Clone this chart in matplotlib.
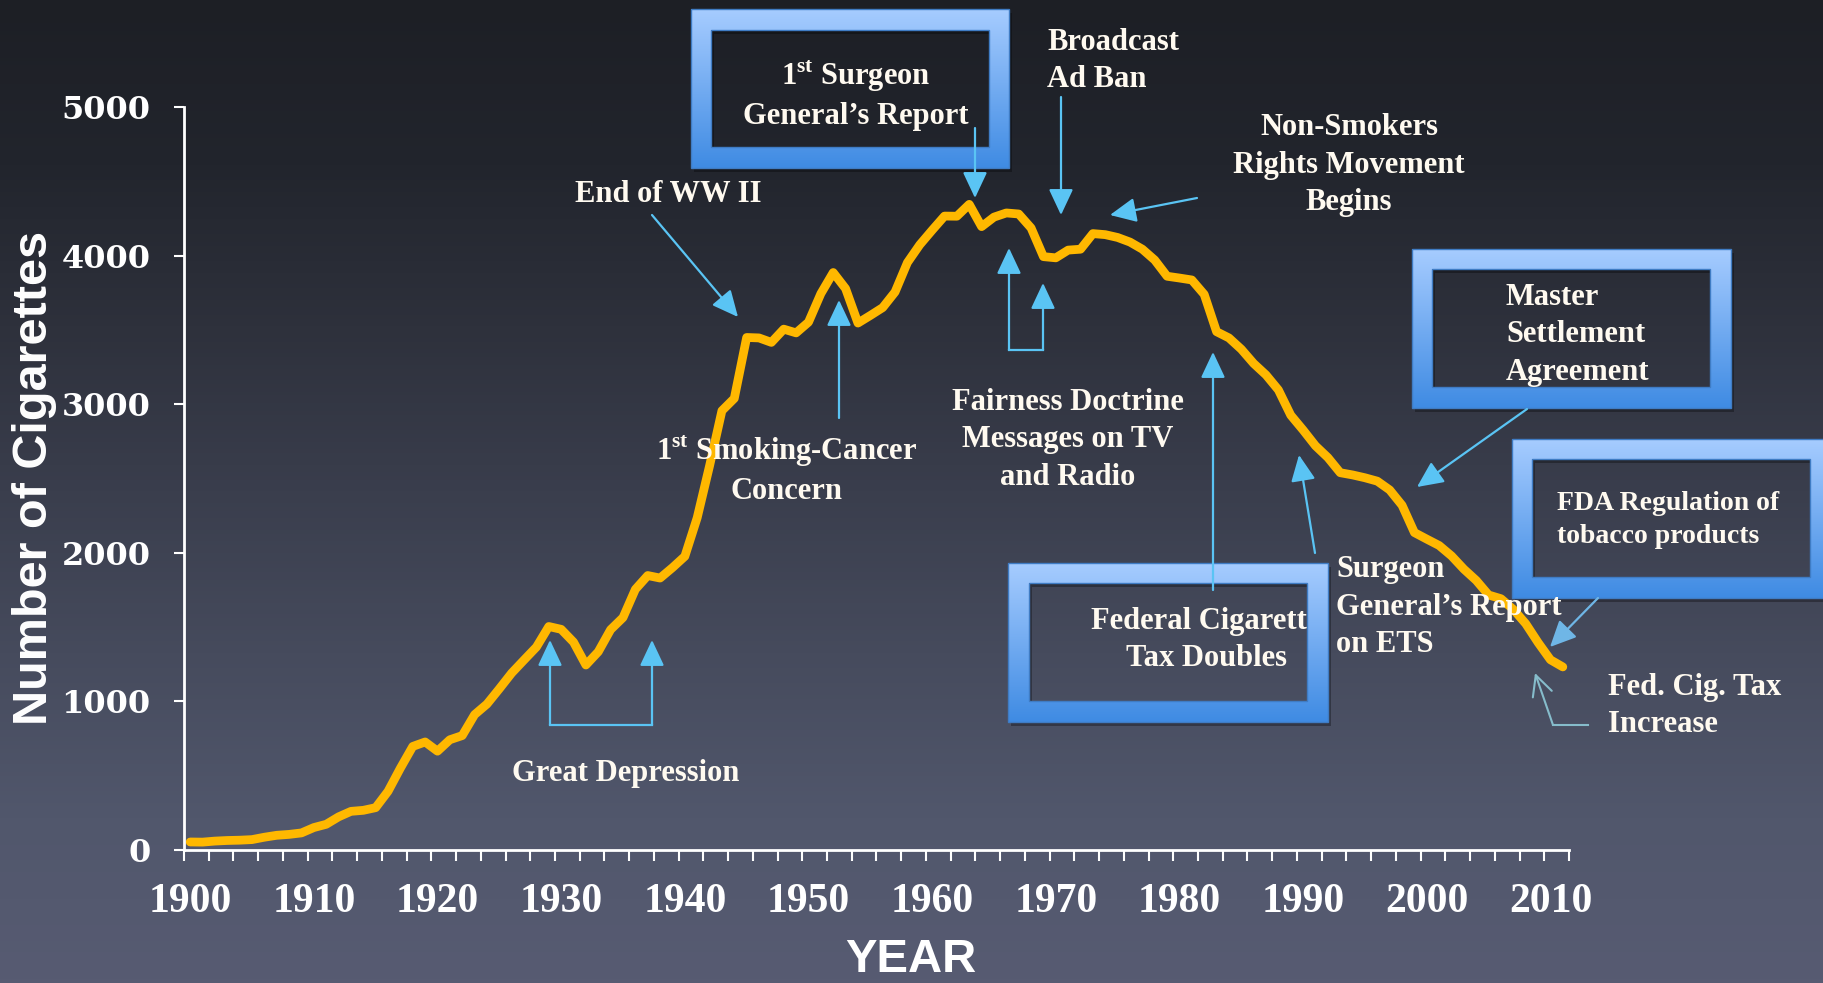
import numpy as np
import matplotlib
matplotlib.use("Agg")
import matplotlib.pyplot as plt
from matplotlib.colors import LinearSegmentedColormap
from matplotlib.patches import FancyArrowPatch, PathPatch, Rectangle
from matplotlib.path import Path

plt.rcParams["mathtext.fontset"] = "custom"
plt.rcParams["mathtext.rm"] = "Liberation Serif:bold"
plt.rcParams["mathtext.bf"] = "Liberation Serif:bold"

# Adult per capita cigarette consumption, US, 1900-2011
years = list(range(1900, 2012))
cigarettes = [
    54, 53, 60, 64, 66, 70, 86, 99, 105, 115,
    151, 173, 223, 260, 267, 285, 395, 551, 697, 727,
    665, 742, 770, 911, 982, 1085, 1191, 1279, 1366, 1504,
    1485, 1399, 1245, 1334, 1483, 1564, 1754, 1847, 1830, 1900,
    1976, 2236, 2585, 2956, 3039, 3449, 3446, 3416, 3505, 3480,
    3552, 3744, 3886, 3778, 3546, 3597, 3650, 3755, 3953, 4073,
    4171, 4266, 4265, 4345, 4195, 4259, 4287, 4280, 4186, 3993,
    3985, 4037, 4043, 4148, 4141, 4122, 4091, 4043, 3970, 3861,
    3849, 3836, 3739, 3488, 3446, 3370, 3274, 3197, 3096, 2926,
    2826, 2720, 2641, 2539, 2524, 2505, 2482, 2423, 2320, 2136,
    2092, 2049, 1979, 1890, 1814, 1716, 1691, 1619, 1523, 1396,
    1280, 1232,
]
decade_ticks = list(range(1900, 2011, 10))
decade_labels = [str(y) for y in decade_ticks]
y_ticks = [0, 1000, 2000, 3000, 4000, 5000]
y_labels = ["0", "1000", "2000", "3000", "4000", "5000"]

W, H = 1823, 983
fig = plt.figure(figsize=(W / 100, H / 100), dpi=100)

# background gradient
bg = fig.add_axes([0, 0, 1, 1], zorder=0)
bg_cmap = LinearSegmentedColormap.from_list(
    "bg", ["#1d1f25", "#22252d", "#2e313c", "#3a3e4d", "#464b5d", "#51576c", "#575b72"])
bg.imshow(np.linspace(0, 1, 256).reshape(-1, 1), cmap=bg_cmap, aspect="auto",
          extent=[0, 1, 0, 1], origin="upper")
bg.axis("off")

# main chart
ax = fig.add_axes([184 / W, 1 - 850 / H, (1569 - 184) / W, (850 - 107) / H], zorder=1)
ax.patch.set_alpha(0)
ax.plot(years, cigarettes, color="#ffb800", lw=6.3, solid_capstyle="round",
        solid_joinstyle="round", clip_on=False)
ax.set_xlim(1899.5, 2011.5)
ax.set_ylim(0, 5000)
for s in ["top", "right"]:
    ax.spines[s].set_visible(False)
for s in ["left", "bottom"]:
    ax.spines[s].set_color("white")
    ax.spines[s].set_linewidth(2)

ax.set_xticks(decade_ticks, labels=decade_labels, fontsize=30, fontweight="bold",
              fontfamily="Liberation Serif", color="white")
ax.set_xticks(np.arange(1899.5, 2012, 2), minor=True)
ax.tick_params(axis="x", which="major", length=0, pad=24)
ax.tick_params(axis="x", which="minor", length=8, width=1.5, color="white", direction="out")
ax.set_yticks(y_ticks, labels=y_labels, fontsize=23, fontweight="bold",
              fontfamily="DejaVu Serif", color="white")
ax.tick_params(axis="y", length=7, width=1.5, color="white", pad=17)

# annotation layer in pixel coordinates
ov = fig.add_axes([0, 0, 1, 1], zorder=2)
ov.axis("off")

TXT = "#fffaf0"
ARR = "#5ac4f4"
serif = dict(family="Liberation Serif", fontweight="bold", color=TXT, fontsize=22,
             linespacing=1.38)

ov.text(35, 478, "Number of Cigarettes", rotation=90, ha="center", va="center",
        fontsize=35, fontweight="bold", family="Liberation Sans", color="white")
ov.text(911, 960, "YEAR", ha="center", va="center", fontsize=34,
        fontweight="bold", family="Liberation Sans", color="white")

box_cmap = LinearSegmentedColormap.from_list("box", ["#a6ccff", "#3f8be3"])


def blue_box(outer, inner):
    x0, y0, x1, y1 = outer
    a0, b0, a1, b1 = inner
    verts = [(x0, y0), (x1, y0), (x1, y1), (x0, y1), (x0, y0),
             (a0, b0), (a0, b1), (a1, b1), (a1, b0), (a0, b0)]
    codes = [Path.MOVETO, Path.LINETO, Path.LINETO, Path.LINETO, Path.CLOSEPOLY] * 2
    path = Path(verts, codes)
    shadow = Path([(vx + 3, vy + 4) for vx, vy in verts], codes)
    ov.add_patch(PathPatch(shadow, facecolor="black", edgecolor="none", alpha=0.3, zorder=3))
    frame = PathPatch(path, facecolor="none", edgecolor="#3f7cc4", lw=1, zorder=5)
    ov.add_patch(frame)
    im = ov.imshow(np.linspace(0, 1, 128).reshape(-1, 1), cmap=box_cmap, aspect="auto",
                   extent=(x0, x1, y1, y0), origin="upper", zorder=4)
    im.set_clip_path(frame)


def arrow(p0, p1, color=ARR, style="-|>,head_length=1.0,head_width=0.47", lw=1.6):
    ov.add_patch(FancyArrowPatch(p0, p1, arrowstyle=style, mutation_scale=16, lw=lw,
                                 color=color, shrinkA=0, shrinkB=0, zorder=6))


# 1st Surgeon General's Report
blue_box((691, 9, 1009, 168), (711, 30, 989, 147))
ov.text(856, 95, "1$^{\\rm st}$ Surgeon\nGeneral\u2019s Report", ha="center", va="center",
        multialignment="center", zorder=7, **serif)
arrow((975, 128), (975, 198))

# Broadcast Ad Ban
ov.text(1047, 61, "Broadcast\nAd Ban", ha="left", va="center", zorder=7, **serif)
arrow((1061, 97), (1061, 215))

# Non-Smokers Rights Movement
ov.text(1349, 165, "Non-Smokers\nRights Movement\nBegins", ha="center", va="center",
        multialignment="center", zorder=7, **serif)
arrow((1197, 198), (1110, 215))

# End of WW II
ov.text(668, 194, "End of WW II", ha="center", va="center", zorder=7, **serif)
arrow((652, 215), (738, 317))

# 1st Smoking-Cancer Concern
ov.text(787, 470, "1$^{\\rm st}$ Smoking-Cancer\nConcern", ha="center", va="center",
        multialignment="center", zorder=7, **serif)
arrow((839, 418), (839, 300))

# Great Depression bracket
ov.plot([550, 652], [725, 725], color=ARR, lw=1.6, zorder=6)
arrow((550, 725), (550, 640))
arrow((652, 725), (652, 640))
ov.text(626, 773, "Great Depression", ha="center", va="center", zorder=7, **serif)

# Fairness Doctrine bracket
ov.plot([1009, 1043], [350, 350], color=ARR, lw=1.6, zorder=6)
arrow((1009, 350), (1009, 248))
arrow((1043, 350), (1043, 283))
ov.text(1068, 440, "Fairness Doctrine\nMessages on TV\nand Radio", ha="center", va="center",
        multialignment="center", zorder=7, **serif)

# Federal Cigarette Tax Doubles
blue_box((1008, 563, 1328, 722), (1029, 583, 1307, 701))
arrow((1213, 590), (1213, 352))
t = ov.text(1206, 640, "Federal Cigarette\nTax Doubles", ha="center", va="center",
            multialignment="center", zorder=7, **serif)
clip = Rectangle((1029, 583), 1307 - 1029, 701 - 583, transform=ov.transData)
t.set_clip_path(clip)
t.set_clip_on(True)

# Surgeon General's Report on ETS
ov.text(1336, 607, "Surgeon\nGeneral\u2019s Report\non ETS", ha="left", va="center",
        zorder=7, **serif)
arrow((1315, 553), (1299, 455))

# Master Settlement Agreement
blue_box((1412, 249, 1731, 408), (1432, 269, 1710, 387))
ov.text(1506, 335, "Master\nSettlement\nAgreement", ha="left", va="center", zorder=7, **serif)
arrow((1527, 409), (1417, 487))

# FDA Regulation
blue_box((1512, 439, 1835, 598), (1532, 459, 1810, 577))
ov.text(1557, 520, "FDA Regulation of\ntobacco products", ha="left", va="center",
        zorder=7, family="Liberation Serif", fontweight="bold", color=TXT, fontsize=20,
        linespacing=1.38)
arrow((1598, 598), (1550, 647), color="#6fb6e6")

# Fed. Cig. Tax Increase
ov.plot([1588, 1553], [725, 725], color="#86bccb", lw=1.5, zorder=6)
arrow((1553, 725), (1535, 673), color="#86bccb", style="->,head_length=0.9,head_width=0.45",
      lw=1.5)
ov.text(1608, 706, "Fed. Cig. Tax\nIncrease", ha="left", va="center", zorder=7, **serif)

ov.set_xlim(0, W)
ov.set_ylim(H, 0)

fig.savefig("out.png", dpi=100)
